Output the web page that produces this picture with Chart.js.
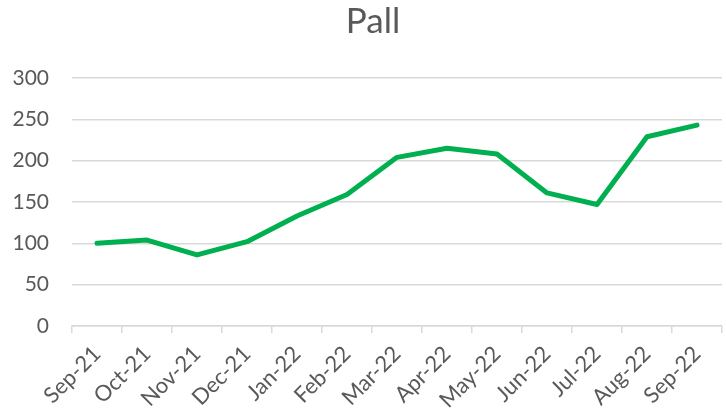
<!DOCTYPE html>
<html>
<head>
<meta charset="utf-8">
<script src="https://cdn.jsdelivr.net/npm/chart.js@4/dist/chart.umd.min.js"></script>
<style>
html,body{margin:0;padding:0;background:#fff;}
#wrap{width:726px;height:415px;}
</style>
</head>
<body>
<div id="wrap"><canvas id="c" width="726" height="415"></canvas></div>
<script>
const categories = ["Sep-21","Oct-21","Nov-21","Dec-21","Jan-22","Feb-22","Mar-22","Apr-22","May-22","Jun-22","Jul-22","Aug-22","Sep-22"];
const pallValues = [100, 104, 86, 102, 133, 159, 204, 215, 208, 161, 147, 229, 243];
const yTicks = [0, 50, 100, 150, 200, 250, 300];
const chartTitle = "Pall";

const FONT = "Lato, 'Open Sans', sans-serif";
const TEXT = "#595959";
const GRID = "#d9d9d9";

const titlePlugin = {
  id: 'offsetTitle',
  afterDraw(chart) {
    const ctx = chart.ctx;
    ctx.save();
    ctx.font = "35px " + FONT;
    ctx.fillStyle = TEXT;
    ctx.textAlign = 'center';
    ctx.textBaseline = 'middle';
    ctx.fillText(chartTitle, chart.width / 2 + 10, 22);
    ctx.restore();
  }
};

new Chart(document.getElementById('c'), {
  type: 'line',
  data: {
    labels: categories,
    datasets: [{
      label: chartTitle,
      data: pallValues,
      borderColor: '#00B050',
      backgroundColor: '#00B050',
      borderWidth: 5,
      pointRadius: 0,
      tension: 0,
      borderCapStyle: 'round',
      borderJoinStyle: 'round',
      fill: false
    }]
  },
  plugins: [titlePlugin],
  options: {
    responsive: false,
    animation: false,
    layout: { padding: { left: 0, right: 4, top: 78, bottom: 0 } },
    plugins: {
      legend: { display: false },
      tooltip: { enabled: false },
      title: { display: false }
    },
    scales: {
      x: {
        offset: true,
        grid: {
          display: true,
          offset: true,
          drawOnChartArea: false,
          drawTicks: true,
          tickLength: 7,
          color: GRID,
          lineWidth: 1.5
        },
        border: { display: true, color: GRID, width: 1.5 },
        ticks: {
          color: TEXT,
          font: { family: FONT, size: 22 },
          minRotation: 45,
          maxRotation: 45,
          autoSkip: false,
          padding: 8
        },
        afterFit: (s) => { s.height = 89; }
      },
      y: {
        min: 0,
        max: 300,
        afterBuildTicks: (s) => { s.ticks = yTicks.map(v => ({ value: v })); },
        grid: {
          color: GRID,
          lineWidth: 1.5,
          drawTicks: false
        },
        border: { display: false },
        ticks: {
          color: TEXT,
          font: { family: FONT, size: 21 },
          padding: 23
        },
        afterFit: (s) => { s.width = 72; }
      }
    }
  }
});
</script>
</body>
</html>
